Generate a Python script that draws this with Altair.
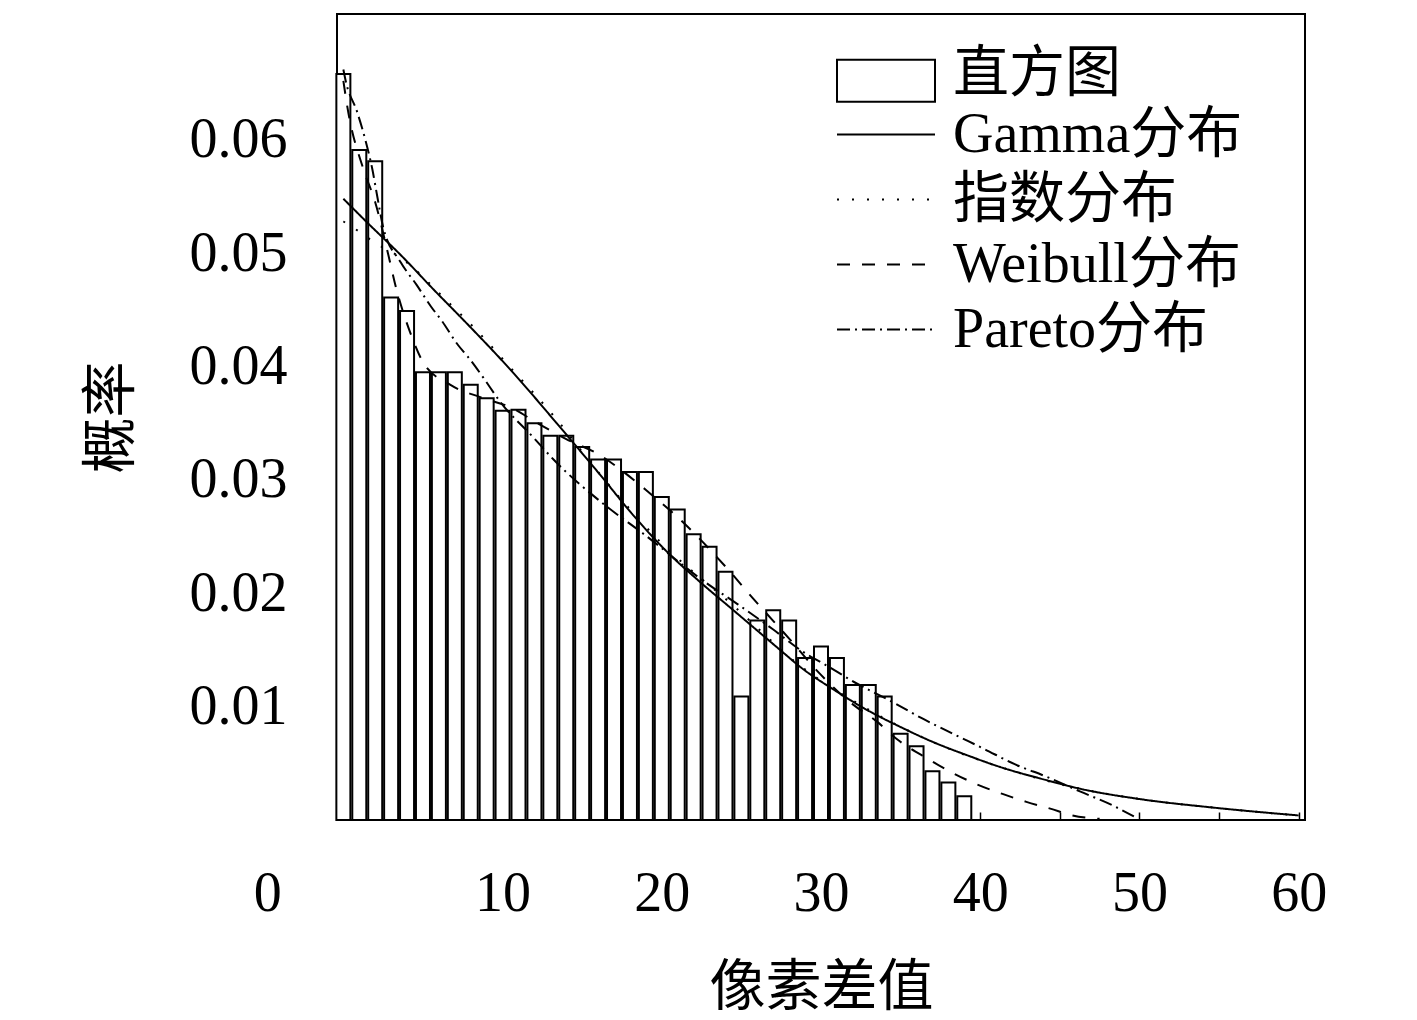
import altair as alt
import pandas as pd

# ---------------- data ----------------
bin_centers = list(range(40))
bin_probs = [0.0658, 0.0591, 0.0581, 0.0461, 0.0449, 0.0395, 0.0395, 0.0395, 0.0384, 0.0372,
             0.0361, 0.0362, 0.0350, 0.0339, 0.0339, 0.0329, 0.0318, 0.0318, 0.0307, 0.0307,
             0.0285, 0.0274, 0.0252, 0.0241, 0.0219, 0.0109, 0.0176, 0.0185, 0.0176, 0.0143,
             0.0153, 0.0143, 0.0119, 0.0119, 0.0109, 0.0076, 0.0065, 0.0043, 0.0033, 0.0021]
bar_half_width = 0.44

series_names = ["Gamma分布", "指数分布", "Weibull分布", "Pareto分布"]

gamma_x = [0, 1.5, 3.7, 5.8, 7.2, 10.7, 13.4, 16.1, 18.2, 20.3, 22.4, 24.5, 27.6, 28.7, 30.8,
           32.9, 35.0, 37.0, 39.2, 41.2, 44.2, 46.3, 50.0, 54.6, 60.0]
gamma_y = [0.0548, 0.0527, 0.0497, 0.0466, 0.0446, 0.0394, 0.0350, 0.0305, 0.0269, 0.0237,
           0.0210, 0.0185, 0.0148, 0.0135, 0.0115, 0.0097, 0.0082, 0.0069, 0.0057, 0.0047,
           0.0035, 0.00275, 0.00185, 0.0011, 0.0004]

exp_x = [0, 1.0, 2.0, 3.5, 6.5, 8.5, 10.5, 13.3, 16.0, 20.0, 24.5, 28.7, 32.9, 37.0, 41.2,
         46.3, 50.0, 54.6, 60.0]
exp_y = [0.0528, 0.0519, 0.0509, 0.0497, 0.0458, 0.0430, 0.0399, 0.0355, 0.0307, 0.0244,
         0.0189, 0.0136, 0.0098, 0.0069, 0.0047, 0.00275, 0.00185, 0.0011, 0.0004]

weib_x = [0, 0.25, 1.26, 2.0, 2.8, 3.3, 4.2, 5.0, 6.7, 8.6, 10.5, 12.2, 14.0, 16.1, 17.7,
          19.1, 21.0, 24.1, 25.7, 28.0, 30.0, 32.0, 33.5, 34.8, 36.7, 38.2, 39.7, 41.4,
          42.9, 44.4, 45.8, 47.5]
weib_y = [0.0652, 0.0629, 0.0574, 0.0545, 0.0500, 0.0470, 0.0430, 0.0404, 0.0384, 0.0373,
          0.0364, 0.0350, 0.0336, 0.0322, 0.0306, 0.0290, 0.0267, 0.0222, 0.0196, 0.0160,
          0.0128, 0.0102, 0.0087, 0.0071, 0.0054, 0.0042, 0.0032, 0.0023, 0.0016, 0.0010,
          0.0004, 0.0001]

par_x = [0, 0.13, 0.88, 1.38, 1.82, 2.13, 2.5, 3.6, 4.6, 5.5, 6.2, 7.2, 7.8, 8.8, 9.9, 11.9,
         13.2, 16.5, 18.8, 22.8, 24.8, 27.0, 28.7, 30.5, 32.3, 34.5, 36.3, 38.3, 40.2, 42.2,
         44.2, 46.3, 48.3, 49.8]
par_y = [0.0662, 0.0653, 0.0624, 0.0600, 0.0574, 0.0550, 0.0523, 0.0492, 0.0472, 0.0453,
         0.0440, 0.0419, 0.0409, 0.0390, 0.0368, 0.0338, 0.0318, 0.0277, 0.0253, 0.0209,
         0.0190, 0.0168, 0.0150, 0.0135, 0.0120, 0.0104, 0.0090, 0.0076, 0.0063, 0.0049,
         0.0038, 0.0025, 0.0013, 0.0002]

x_tick_values = [0, 5, 10, 15, 20, 25, 30, 35, 40, 45, 50, 55, 60]
y_label_values = [0.01, 0.02, 0.03, 0.04, 0.05, 0.06]
y_tick_values = [0.00548, 0.01096, 0.01644, 0.02192, 0.0274, 0.03288, 0.03836, 0.04384,
                 0.04932, 0.0548, 0.06028, 0.06576]

# ---------------- tables ----------------
hist_df = pd.DataFrame({"bin": bin_centers, "p": bin_probs, "kind": "直方图"})

rows = []
for name, xs, ys in zip(series_names, [gamma_x, exp_x, weib_x, par_x],
                        [gamma_y, exp_y, weib_y, par_y]):
    for i, (a, b) in enumerate(zip(xs, ys)):
        rows.append({"series": name, "x": a, "y": b, "order": i})
line_df = pd.DataFrame(rows)

FONT = "Liberation Serif, Noto Sans CJK SC"
FS = 56

xscale = alt.Scale(domain=[-0.4, 60.4], nice=False, zero=False)
yscale = alt.Scale(domain=[0, 0.0711], nice=False, zero=False)

x_axis = alt.Axis(
    values=x_tick_values, format="d",
    labelExpr="datum.value % 10 == 0 ? datum.label : ''",
    offset=-8, tickSize=8, tickWidth=1.5, tickColor="black",
    domain=False, grid=False,
    labelFont=FONT, labelFontSize=FS, labelColor="black", labelPadding=46,
    labelBaseline="top", labelFlush=False, labelOverlap=False,
    labelOffset={"condition": {"test": "datum.value == 0", "value": -76}, "value": 0},
    title="像素差值", titleFont=FONT, titleFontSize=FS, titleFontWeight="normal",
    titleColor="black", titleX=484, titleY=175, titleBaseline="middle",
)

y_tick_axis = alt.Axis(
    orient="left", values=y_tick_values, labels=False,
    offset=-8, tickSize=8, tickWidth=1.5, tickColor="black",
    domain=False, grid=False, title="",
)

y_label_axis = alt.Axis(
    orient="left", values=y_label_values, format=".2f",
    ticks=False, tickSize=0, domain=False, grid=False,
    labelFont=FONT, labelFontSize=FS, labelColor="black", labelPadding=50,
    labelOverlap=False, labelFlush=False,
    title="概率", titleFont=FONT, titleFontSize=FS, titleFontWeight="normal",
    titleColor="black", titleAngle=270, titleX=-226, titleY=403,
    titleBaseline="middle", titleAlign="center",
)

hist_legend = alt.Legend(
    title=None, orient="none", legendX=499, legendY=44, padding=0,
    symbolType="M-1,-0.63L1,-0.63L1,0.23L-1,0.23Z", symbolSize=9604,
    symbolStrokeColor="black", symbolStrokeWidth=2, symbolFillColor="white",
    clipHeight=65, labelFont=FONT, labelFontSize=FS, labelColor="black",
    labelOffset=17, labelLimit=600, labelBaseline="alphabetic",
)

line_legend = alt.Legend(
    title=None, orient="none", legendX=499, legendY=88, padding=0,
    symbolType="stroke", symbolSize=9604, symbolStrokeColor="black",
    symbolStrokeWidth=2, clipHeight=65, rowPadding=0,
    labelFont=FONT, labelFontSize=FS, labelColor="black",
    labelOffset=17, labelLimit=600,
)

bars = alt.Chart(hist_df).transform_calculate(
    x0=f"datum.bin - {bar_half_width}", x1=f"datum.bin + {bar_half_width}", base="0"
).mark_bar(stroke="black", strokeWidth=2).encode(
    x=alt.X("x0:Q", scale=xscale, axis=x_axis),
    x2="x1:Q",
    y=alt.Y("p:Q", scale=yscale, axis=y_tick_axis),
    y2="base:Q",
    fill=alt.Fill("kind:N", scale=alt.Scale(domain=["直方图"], range=["white"]),
                  legend=hist_legend),
)

lines = alt.Chart(line_df).mark_line(color="black", strokeWidth=2, interpolate="monotone").encode(
    x=alt.X("x:Q", scale=xscale, axis=x_axis),
    y=alt.Y("y:Q", scale=yscale, axis=y_label_axis),
    strokeDash=alt.StrokeDash(
        "series:N",
        scale=alt.Scale(domain=series_names,
                        range=[[1, 0], [2, 13], [13, 12], [13, 5, 2, 5]]),
        legend=line_legend,
    ),
    order="order:Q",
)

chart = alt.layer(bars, lines).resolve_axis(y="independent").properties(
    width=968, height=806,
    autosize=alt.AutoSizeParams(type="none"),
    padding={"left": 329, "top": 6, "right": 100, "bottom": 198},
    background="white",
).configure_view(stroke="black", strokeWidth=2)

chart.save("out.html", embed_options={"renderer": "svg", "actions": False})
